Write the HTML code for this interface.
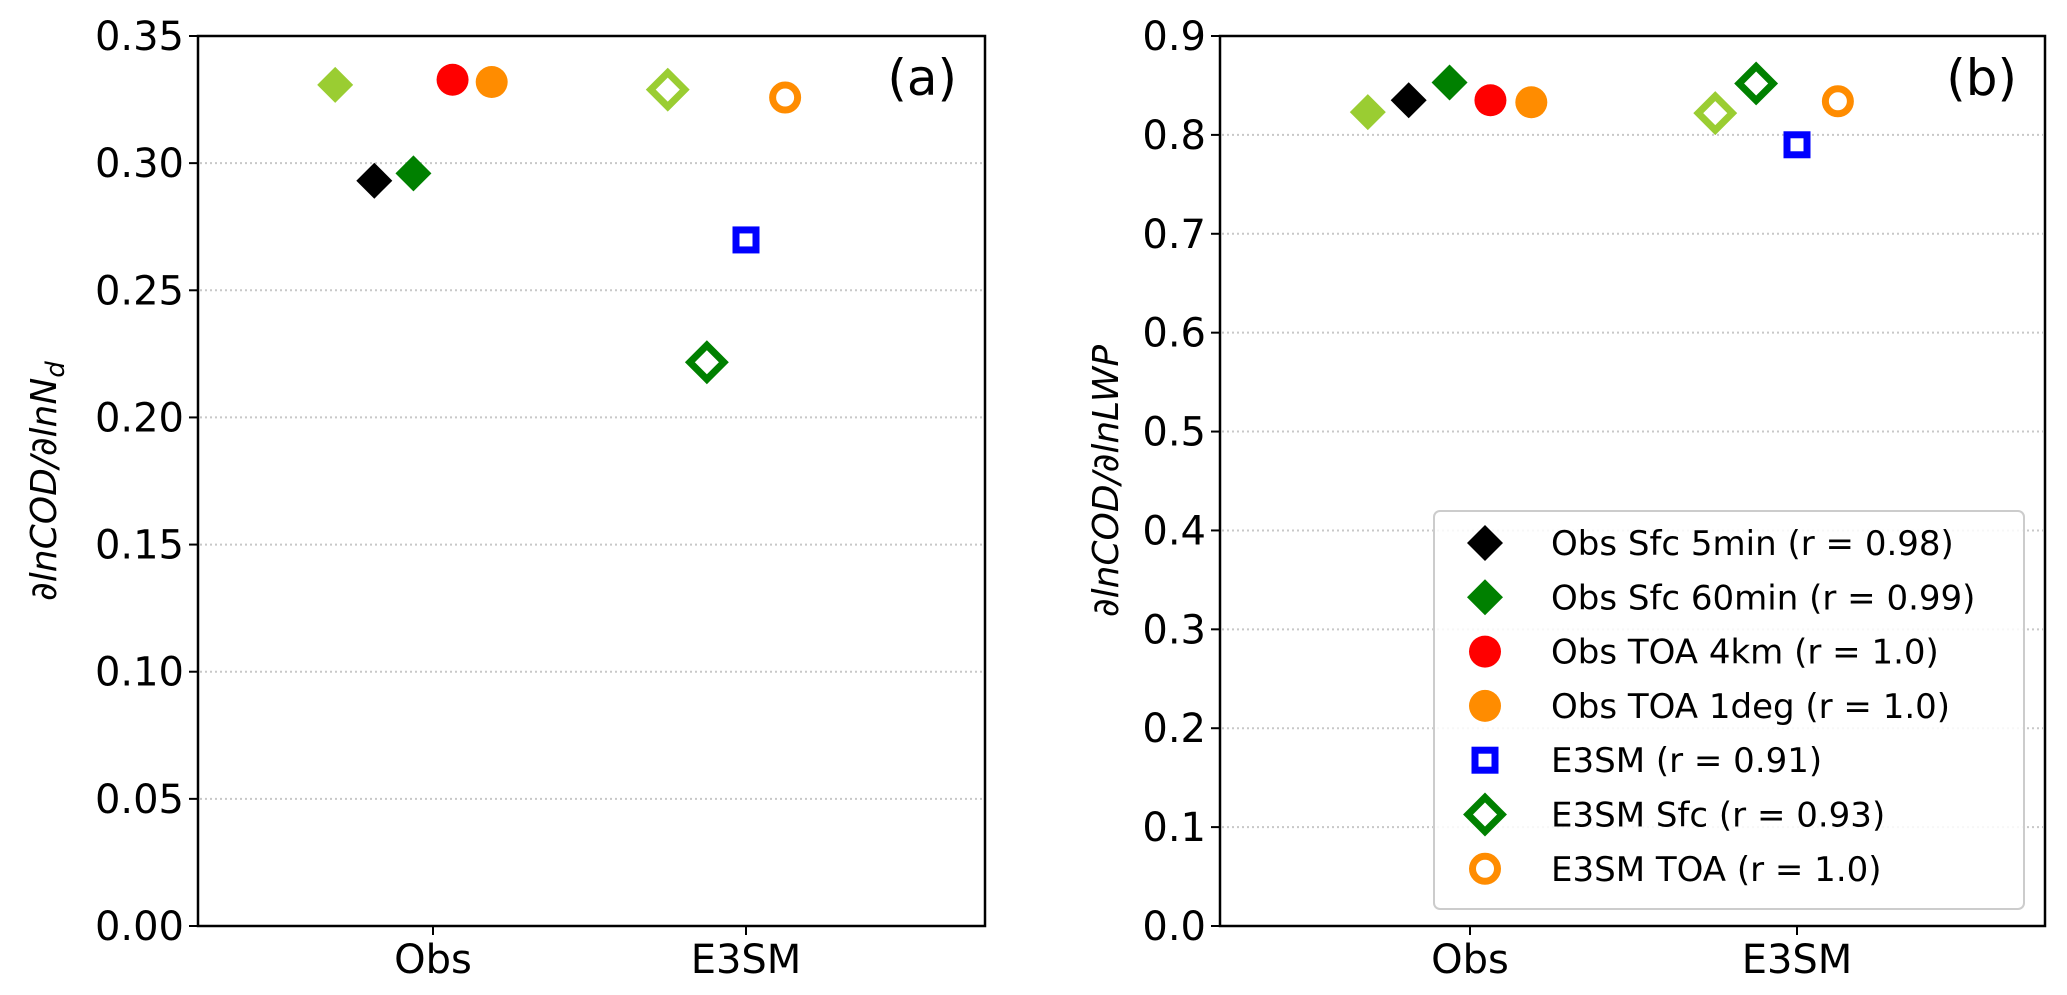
<!DOCTYPE html>
<html><head><meta charset="utf-8">
<style>
html,body{margin:0;padding:0;background:#fff;}
svg{display:block;font-family:"DejaVu Sans","Liberation Sans",sans-serif;}
</style></head>
<body>
<svg id="chart" width="2067" height="995" viewBox="0 0 2067 995" xmlns="http://www.w3.org/2000/svg"></svg>
<script>
const categories = ["Obs", "E3SM"];
const obsSeriesNames = ["Obs Sfc 5min (r = 0.98)", "Obs Sfc 60min (r = 0.99)", "Obs TOA 4km (r = 1.0)", "Obs TOA 1deg (r = 1.0)"];
const modelSeriesNames = ["E3SM (r = 0.91)", "E3SM Sfc (r = 0.93)", "E3SM TOA (r = 1.0)"];
// panel a values (dlnCOD/dlnNd)
const aObsLightGreen = 0.3308, aObs5min = 0.2931, aObs60min = 0.2960, aObs4km = 0.3328, aObs1deg = 0.3319;
const aE3smLightGreen = 0.3289, aE3smSfc = 0.2217, aE3sm = 0.2698, aE3smToa = 0.3258;
// panel b values (dlnCOD/dlnLWP)
const bObsLightGreen = 0.823, bObs5min = 0.835, bObs60min = 0.853, bObs4km = 0.835, bObs1deg = 0.833;
const bE3smLightGreen = 0.822, bE3smSfc = 0.852, bE3sm = 0.790, bE3smToa = 0.834;
const aTicks = ["0.00","0.05","0.10","0.15","0.20","0.25","0.30","0.35"];
const bTicks = ["0.0","0.1","0.2","0.3","0.4","0.5","0.6","0.7","0.8","0.9"];

const NS = "http://www.w3.org/2000/svg";
const svg = document.getElementById("chart");
function mk(tag, attrs, parent){ const e = document.createElementNS(NS, tag); for (const k in attrs) e.setAttribute(k, attrs[k]); (parent||svg).appendChild(e); return e; }

const LG = "#9acd32", DG = "#008000", RED = "#ff0000", OR = "#ff8c00", BL = "#0000ff";

function marker(g, kind, color, cx, cy, name){
  let e;
  if (kind === "D") e = mk("polygon", {points:`${cx},${cy-18} ${cx+18},${cy} ${cx},${cy+18} ${cx-18},${cy}`, fill:color}, g);
  else if (kind === "Do") e = mk("polygon", {points:`${cx},${cy-17} ${cx+17},${cy} ${cx},${cy+17} ${cx-17},${cy}`, fill:"none", stroke:color, "stroke-width":7}, g);
  else if (kind === "o") e = mk("circle", {cx:cx, cy:cy, r:16, fill:color}, g);
  else if (kind === "oo") e = mk("circle", {cx:cx, cy:cy, r:12.5, fill:"none", stroke:color, "stroke-width":7}, g);
  else e = mk("rect", {x:cx-10, y:cy-10, width:20, height:20, fill:"none", stroke:color, "stroke-width":7}, g);
  
  
  return e;
}

function panel(cfg){
  const g = mk("g", {});
  
  
  const L = cfg.left, R = cfg.right, T = 36, B = 926;
  const yS = v => B - (v - 0) / (cfg.ymax) * (B - T);
  const xS = v => cfg.x0 + v * cfg.dx;
  cfg.ticks.forEach((t, i) => {
    const v = parseFloat(t), y = yS(v);
    if (i > 0 && i < cfg.ticks.length - 1) {
      const gl = mk("line", {x1:L+2, x2:R-2, y1:y, y2:y, stroke:"#c8c8c8", "stroke-width":2, "stroke-dasharray":"2,3"}, g);
      
      
    }
    mk("line", {x1:L-9, x2:L, y1:y, y2:y, stroke:"#000", "stroke-width":2}, g);
    const tx = mk("text", {x:L-14, y:y+14, "text-anchor":"end", "font-size":40, fill:"#000"}, g);
    tx.textContent = t;
    
    
  });
  categories.forEach((c, i) => {
    const x = xS(i);
    mk("line", {x1:x, x2:x, y1:B, y2:B+9, stroke:"#000", "stroke-width":2}, g);
    const tx = mk("text", {x:x, y:973, "text-anchor":"middle", "font-size":40, fill:"#000"}, g);
    tx.textContent = c;
    
    
  });
  const frame = mk("rect", {x:L, y:T, width:R-L, height:B-T, fill:"none", stroke:"#000", "stroke-width":2.5}, g);
  
  
  const yl = mk("text", {transform:`translate(${cfg.ylabX},${(T+B)/2}) rotate(-90)`, "text-anchor":"middle", "font-size":36, "font-style":"italic", fill:"#000"}, g);
  yl.innerHTML = cfg.ylab;
  
  
  const pl = mk("text", {x:R-28, y:95, "text-anchor":"end", "font-size":50, fill:"#000"}, g);
  pl.textContent = cfg.label;
  
  
  const d = cfg.vals;
  marker(g, "D", LG, xS(-0.3125), yS(d[0]), "point-obs-lightgreen");
  marker(g, "D", "#000", xS(-0.1875), yS(d[1]), "point-obs-sfc-5min");
  marker(g, "D", DG, xS(-0.0625), yS(d[2]), "point-obs-sfc-60min");
  marker(g, "o", RED, xS(0.0625), yS(d[3]), "point-obs-toa-4km");
  marker(g, "o", OR, xS(0.1875), yS(d[4]), "point-obs-toa-1deg");
  marker(g, "Do", LG, xS(0.75), yS(d[5]), "point-e3sm-lightgreen");
  marker(g, "Do", DG, xS(0.875), yS(d[6]), "point-e3sm-sfc");
  marker(g, "s", BL, xS(1.0), yS(d[7]), "point-e3sm");
  marker(g, "oo", OR, xS(1.125), yS(d[8]), "point-e3sm-toa");
  return g;
}

panel({name:"panel-a", left:198, right:985, x0:433, dx:313, ymax:0.35, ticks:aTicks, ylabX:56,
  ylab:"∂lnCOD/∂lnN<tspan font-size='26' dy='8'>d</tspan>", label:"(a)",
  vals:[aObsLightGreen,aObs5min,aObs60min,aObs4km,aObs1deg,aE3smLightGreen,aE3smSfc,aE3sm,aE3smToa]});
panel({name:"panel-b", left:1220, right:2045, x0:1470, dx:327, ymax:0.9, ticks:bTicks, ylabX:1118,
  ylab:"∂lnCOD/∂lnLWP", label:"(b)",
  vals:[bObsLightGreen,bObs5min,bObs60min,bObs4km,bObs1deg,bE3smLightGreen,bE3smSfc,bE3sm,bE3smToa]});

const lg = mk("g", {});


mk("rect", {x:1434, y:511, width:590, height:398, rx:6, fill:"#fff", "fill-opacity":0.85, stroke:"#cccccc", "stroke-width":2}, lg);
const legendNames = obsSeriesNames.concat(modelSeriesNames);
const legendKinds = ["D","D","o","o","s","Do","oo"];
const legendColors = ["#000", DG, RED, OR, BL, DG, OR];
legendNames.forEach((n, i) => {
  const y = 543 + i * 54.3;
  const row = mk("g", {}, lg);
  
  
  marker(row, legendKinds[i], legendColors[i], 1485, y, 'legend-marker');
  const t = mk("text", {x:1551, y:y+12, "font-size":34, fill:"#000"}, row);
  t.textContent = n;
  
  
});
</script>
</body></html>
